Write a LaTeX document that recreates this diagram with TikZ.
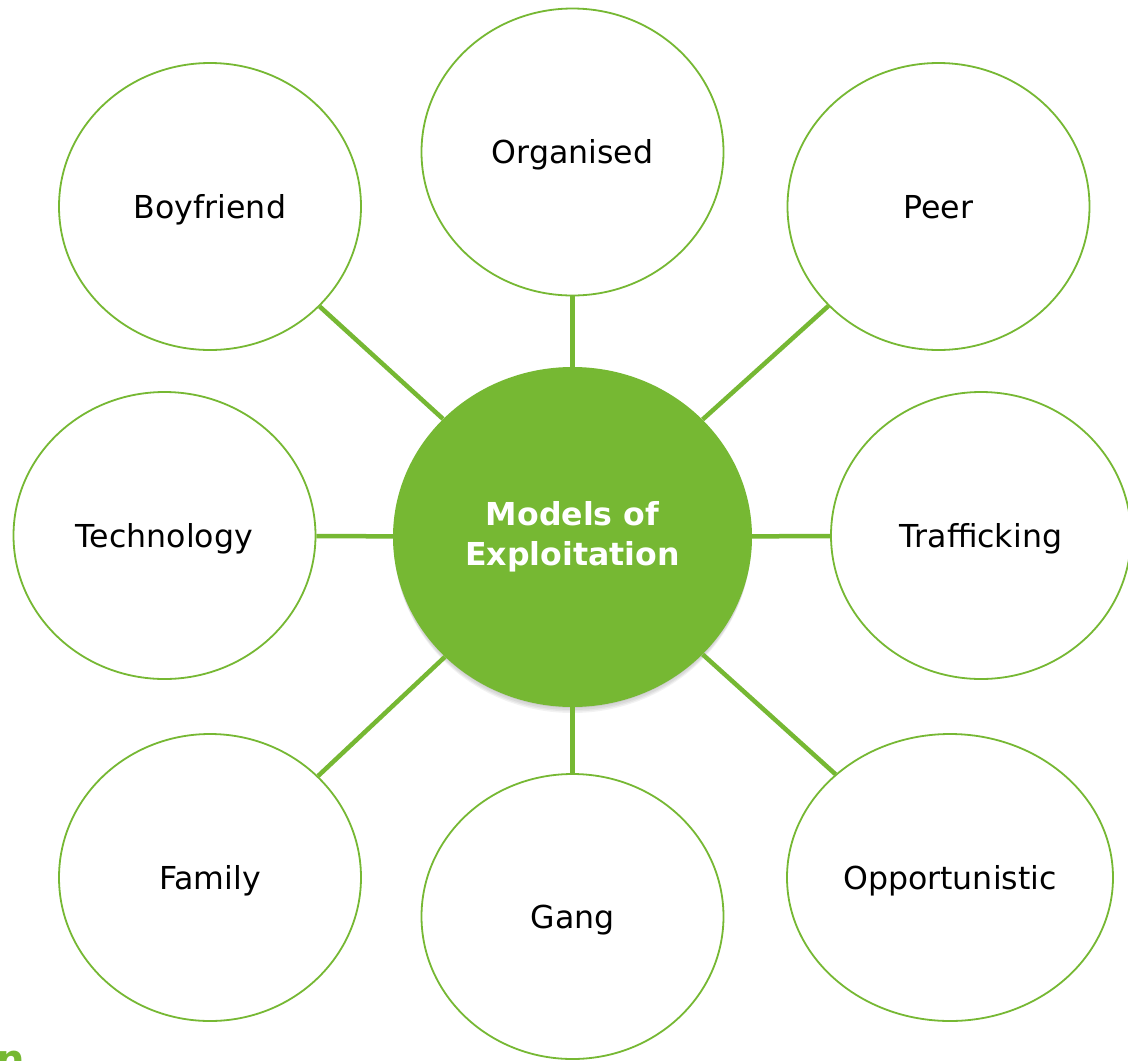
\documentclass[tikz,border=0pt]{standalone}
\usepackage{fontspec}
\setmainfont{DejaVu Sans}
\usetikzlibrary{shapes.geometric}
\definecolor{lgreen}{RGB}{118,184,51}
\begin{document}
\begin{tikzpicture}[x=1pt,y=-1pt,
  outer/.style={ellipse,draw=lgreen,line width=1.8pt,fill=white,
    minimum width=302pt,minimum height=287pt,inner sep=0pt,
    text height=23pt,text depth=0pt,
    font=\fontsize{31.6}{38}\selectfont},
  hub/.style={ellipse,fill=lgreen,minimum width=359pt,minimum height=340pt,
    inner sep=0pt,text=white,align=center,
    font=\fontsize{31.6}{40}\selectfont\bfseries},
  shade/.style={fill=black,opacity=0.05},
  link/.style={draw=lgreen,line width=4.5pt}]
\useasboundingbox (0,0) rectangle (1128,1061);
\fill[white] (0,0) rectangle (1128,1061);

% soft shadow under the hub
\fill[shade] (572.5,538) ellipse [x radius=179,y radius=170];
\fill[shade] (572.5,540) ellipse [x radius=179,y radius=170];
\fill[shade] (572.5,542) ellipse [x radius=178.5,y radius=169.5];
\fill[shade] (572.5,544) ellipse [x radius=178,y radius=169];

\node[hub] (hub) at (572.5,537) {Models of\\Exploitation};

\node[outer] (boy) at (210,206.5) {Boyfriend};
\node[outer] (org) at (572.5,152) {Organised};
\node[outer] (peer) at (938.5,206.5) {Peer};
\node[outer] (tech) at (164.5,535.5) {Technology};
\node[outer,minimum width=300pt] (traf) at (981,535.5) {Trafficking};
\node[outer] (fam) at (210,877.5) {Family};
\node[outer,minimum height=285pt] (gang) at (572.5,916.5) {Gang};
\node[outer,minimum width=326pt] (opp) at (950,877.5) {Opportunistic};

\foreach \n in {boy,org,peer,tech,traf,fam,gang,opp}
  \draw[link] (hub) -- (\n);

\node[anchor=north west,inner sep=0pt,text=lgreen,
  font=\fontsize{40}{40}\selectfont\bfseries] (frag) at (-4,1051) {n};
\end{tikzpicture}
\end{document}
